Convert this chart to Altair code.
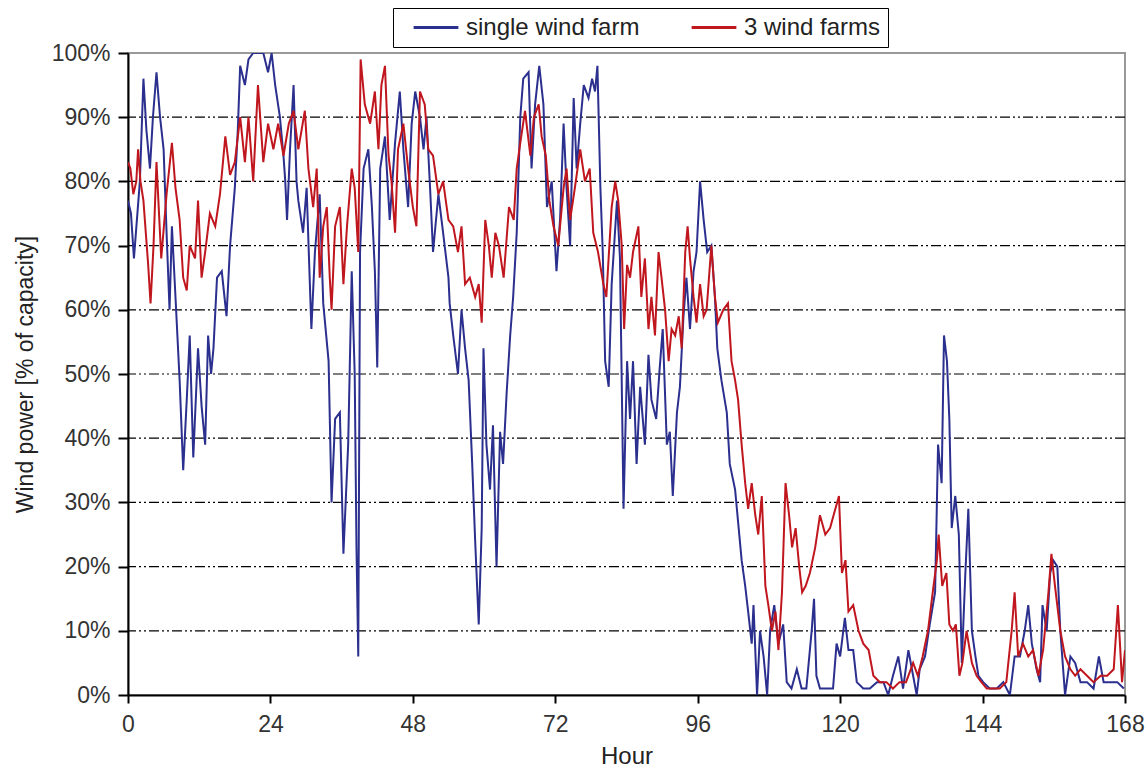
import altair as alt
import pandas as pd

# ---- data ----
single_hours = [0.0, 0.5, 1.0, 1.5, 2.0, 2.6, 3.1, 3.7, 4.2, 4.8, 5.4, 6.0, 6.5, 7.0, 7.4, 8.0, 8.7, 9.3, 9.9, 10.4,
                11.0, 11.8, 12.4, 13.0, 13.5, 14.0, 14.4, 15.0, 15.8, 16.6, 17.2, 18.0, 18.5, 18.9, 19.7, 20.3, 21.1, 22.0, 22.8, 23.6,
                24.2, 24.8, 25.6, 26.2, 26.5, 26.8, 27.3, 27.9, 28.4, 28.7, 29.5, 30.1, 30.9, 31.5, 32.3, 32.9, 33.8, 34.3, 34.9, 35.7,
                36.3, 37.1, 37.7, 38.2, 38.5, 38.8, 39.1, 39.7, 40.5, 41.1, 41.6, 42.0, 42.5, 43.3, 44.1, 45.0, 45.8, 46.4, 47.2, 47.8,
                48.4, 49.2, 49.8, 50.3, 50.9, 51.4, 52.3, 53.1, 54.0, 54.2, 54.8, 55.6, 56.2, 56.8, 57.4, 58.0, 58.5, 59.1, 59.6, 59.9,
                60.4, 61.0, 61.5, 62.1, 62.7, 63.2, 63.8, 64.4, 64.9, 65.5, 66.1, 66.6, 67.5, 68.0, 68.6, 69.3, 70.0, 70.6, 71.4, 72.2,
                72.8, 73.4, 73.9, 74.5, 75.1, 75.6, 76.2, 76.8, 77.6, 78.2, 78.7, 79.1, 79.6, 80.0, 80.4, 81.0, 81.5, 82.4, 82.9, 83.5,
                84.1, 84.6, 85.1, 85.7, 86.3, 87.1, 87.7, 88.2, 89.0, 89.6, 90.1, 90.8, 91.3, 91.8, 92.5, 93.0, 93.6, 94.1, 94.7, 95.3,
                95.8, 96.4, 97.0, 97.6, 98.3, 98.9, 99.3, 100.0, 100.9, 101.4, 102.3, 102.8, 103.4, 104.0, 104.5, 105.1, 105.4, 106.0, 106.5, 107.1,
                107.7, 108.2, 108.9, 109.6, 110.4, 111.0, 111.8, 112.7, 113.5, 114.3, 115.2, 115.6, 116.0, 116.6, 117.7, 118.8, 119.4, 120.0, 120.8, 121.4,
                122.2, 122.8, 123.9, 125.0, 126.2, 127.3, 128.1, 128.9, 129.8, 130.6, 131.5, 132.3, 132.9, 133.4, 134.3, 135.1, 136.0, 136.5, 137.1, 137.5,
                138.0, 138.4, 138.8, 139.4, 140.0, 140.5, 141.1, 141.6, 142.2, 142.8, 143.3, 144.1, 145.2, 146.4, 147.5, 148.6, 149.4, 150.3, 151.1, 151.7,
                152.3, 153.1, 153.7, 154.1, 154.8, 155.4, 155.9, 156.6, 157.1, 157.9, 158.8, 159.6, 160.5, 161.6, 162.7, 163.6, 164.4, 165.5, 166.7, 167.8]
single_values = [77, 75, 68, 74, 80, 96, 88, 82, 90, 97, 90, 85, 72, 60, 73, 62, 49, 35, 46, 56,
                 37, 54, 45, 39, 56, 50, 54, 65, 66, 59, 70, 79, 88, 98, 95, 99, 100, 100, 100, 97,
                 100, 95, 90, 84, 80, 74, 85, 95, 80, 77, 72, 79, 57, 69, 78, 61, 52, 30, 43, 44,
                 22, 39, 66, 50, 23, 6, 69, 82, 85, 76, 66, 51, 82, 87, 74, 86, 94, 85, 76, 89,
                 94, 90, 85, 90, 79, 69, 78, 72, 65, 61, 56, 50, 60, 54, 49, 36, 24, 11, 26, 54,
                 39, 32, 42, 20, 41, 36, 47, 56, 62, 72, 90, 96, 97, 82, 92, 98, 92, 76, 80, 66,
                 74, 89, 79, 70, 93, 82, 89, 95, 93, 96, 94, 98, 79, 69, 52, 48, 64, 77, 68, 29,
                 52, 43, 52, 36, 48, 39, 53, 46, 43, 51, 57, 39, 41, 31, 44, 48, 59, 65, 57, 66,
                 69, 80, 74, 69, 70, 62, 54, 49, 44, 36, 32, 27, 21, 17, 13, 8, 14, 0, 10, 6,
                 0, 10, 14, 8, 11, 2, 1, 4, 1, 1, 10, 15, 3, 1, 1, 1, 8, 6, 12, 7,
                 7, 2, 1, 1, 2, 2, 0, 3, 6, 1, 7, 3, 0, 4, 6, 11, 16, 39, 33, 56,
                 52, 43, 26, 31, 25, 5, 19, 29, 10, 6, 3, 2, 1, 1, 2, 0, 6, 6, 10, 14,
                 8, 4, 2, 14, 10, 19, 21, 20, 10, 0, 6, 5, 2, 2, 1, 6, 2, 2, 2, 1]

three_hours = [0.0, 0.4, 0.9, 1.4, 1.7, 2.1, 2.6, 3.4, 3.8, 4.3, 4.8, 5.6, 6.5, 7.4, 8.0, 8.7, 9.3, 9.9, 10.4, 11.3,
               11.8, 12.4, 13.0, 13.8, 14.7, 15.5, 16.4, 17.2, 18.0, 18.9, 19.7, 20.3, 21.1, 21.9, 22.8, 23.6, 24.5, 25.3, 26.2, 27.1,
               27.9, 28.7, 29.8, 30.4, 31.2, 31.8, 32.3, 32.9, 33.5, 34.0, 34.3, 34.9, 35.7, 36.3, 36.9, 37.7, 38.2, 38.8, 39.2, 39.9,
               40.8, 41.6, 42.2, 42.7, 43.3, 43.9, 44.4, 45.0, 45.5, 46.4, 47.2, 48.0, 48.6, 49.2, 50.0, 50.6, 51.4, 52.3, 53.1, 54.0,
               54.8, 55.6, 56.2, 56.8, 57.6, 58.5, 59.1, 59.6, 60.2, 60.8, 61.3, 61.9, 62.5, 63.3, 64.2, 65.0, 65.5, 66.1, 66.9, 67.8,
               68.4, 69.2, 69.7, 70.4, 71.0, 71.7, 72.5, 73.4, 73.9, 74.5, 75.3, 76.2, 77.0, 77.8, 78.4, 79.2, 80.1, 80.6, 81.5, 82.1,
               82.6, 83.2, 83.6, 84.1, 84.6, 85.1, 86.0, 86.5, 87.1, 87.7, 88.2, 88.8, 89.4, 89.9, 90.5, 91.1, 91.6, 92.2, 92.8, 93.3,
               93.9, 94.3, 94.7, 95.3, 95.8, 96.4, 97.0, 97.5, 98.3, 98.9, 99.4, 100.3, 101.1, 101.7, 102.3, 102.8, 103.4, 104.0, 104.5, 105.1,
               105.7, 106.2, 106.8, 107.4, 107.9, 108.5, 109.1, 109.6, 110.2, 110.8, 111.4, 111.9, 112.5, 113.1, 113.6, 114.2, 114.9, 115.8, 116.6, 117.5,
               118.3, 119.2, 119.8, 120.3, 120.9, 121.4, 122.2, 123.1, 123.9, 124.8, 125.6, 126.7, 127.8, 128.9, 130.0, 131.1, 132.3, 133.1, 133.9, 134.8,
               135.6, 136.3, 136.6, 137.2, 137.9, 138.4, 139.0, 139.5, 140.1, 140.6, 141.3, 142.2, 143.0, 143.8, 144.7, 145.8, 146.9, 148.0, 148.9, 149.4,
               150.0, 150.8, 151.7, 152.5, 153.4, 154.2, 155.1, 155.6, 156.2, 157.1, 157.9, 158.8, 159.6, 160.5, 161.6, 162.7, 163.9, 165.0, 166.1, 166.8,
               167.5, 168.0]
three_values = [83, 82, 78, 80, 85, 80, 77, 67, 61, 70, 83, 68, 78, 86, 79, 74, 65, 63, 70, 68,
                77, 65, 69, 75, 73, 78, 87, 81, 83, 90, 83, 90, 80, 95, 83, 89, 85, 89, 84, 89,
                91, 85, 91, 82, 76, 82, 65, 73, 76, 65, 60, 73, 76, 64, 73, 82, 79, 69, 99, 92,
                89, 94, 85, 95, 98, 84, 80, 72, 85, 89, 82, 76, 73, 94, 92, 85, 84, 78, 80, 74,
                73, 69, 73, 64, 65, 62, 64, 58, 74, 70, 65, 72, 70, 65, 76, 74, 82, 86, 91, 84,
                90, 92, 87, 84, 77, 73, 70, 79, 82, 74, 79, 85, 80, 82, 72, 69, 64, 62, 76, 80,
                77, 70, 57, 67, 65, 69, 73, 62, 68, 57, 62, 56, 69, 65, 60, 52, 57, 56, 59, 54,
                69, 73, 68, 62, 58, 64, 59, 60, 70, 62, 58, 60, 61, 52, 49, 46, 39, 33, 29, 33,
                28, 25, 31, 17, 14, 10, 13, 7, 16, 33, 28, 23, 26, 20, 16, 17, 19, 23, 28, 25,
                26, 29, 31, 19, 21, 13, 14, 10, 8, 7, 3, 2, 2, 1, 2, 2, 5, 3, 6, 10,
                16, 21, 25, 17, 19, 11, 10, 11, 3, 5, 10, 5, 3, 2, 1, 1, 1, 2, 10, 16,
                6, 8, 6, 7, 3, 7, 16, 22, 17, 10, 6, 4, 3, 4, 3, 2, 3, 3, 4, 14,
                2, 7]

series_names = ["single wind farm", "3 wind farms"]
series_colors = ["#2B2F8E", "#C0161E"]
x_ticks = [0, 24, 48, 72, 96, 120, 144, 168]
y_ticks = [0, 10, 20, 30, 40, 50, 60, 70, 80, 90, 100]
grid_levels = [10, 20, 30, 40, 50, 60, 70, 80, 90]

df = pd.concat([
    pd.DataFrame({"hour": single_hours, "value": single_values, "series": series_names[0]}),
    pd.DataFrame({"hour": three_hours, "value": three_values, "series": series_names[1]}),
], ignore_index=True)
grid_df = pd.DataFrame({"level": grid_levels})

FONT = "Liberation Sans, Arial, sans-serif"

x_scale = alt.Scale(domain=[0, 168], nice=False, zero=False)
y_scale = alt.Scale(domain=[0, 100], nice=False)

x_axis = alt.Axis(values=x_ticks, title="Hour", grid=False, labelFontSize=23, titleFontSize=24,
                  labelColor="#333333", titleColor="#222222", labelFont=FONT, titleFont=FONT,
                  titleFontWeight="normal", domainColor="black", domainWidth=2,
                  tickColor="black", tickWidth=2, tickSize=8, labelPadding=10, titlePadding=8,
                  labelFlush=False)
y_axis = alt.Axis(values=y_ticks, labelExpr="datum.value + '%'", title="Wind power [% of capacity]",
                  grid=False, labelFontSize=23, titleFontSize=23, labelColor="#333333",
                  titleColor="#222222", labelFont=FONT, titleFont=FONT, titleFontWeight="normal",
                  domainColor="black", domainWidth=2, tickColor="black", tickWidth=2, tickSize=10,
                  labelPadding=8, titlePadding=14, labelFlush=False)

x_enc = alt.X("hour:Q", scale=x_scale, axis=x_axis)
y_enc = alt.Y("value:Q", scale=y_scale, axis=y_axis)
color_enc = alt.Color(
    "series:N",
    scale=alt.Scale(domain=series_names, range=series_colors),
    legend=alt.Legend(
        title=None, orient="none", legendX=265, legendY=-45, direction="horizontal",
        symbolType="stroke", symbolSize=2000, symbolStrokeWidth=3, clipHeight=25,
        symbolOffset=12,
        labelFontSize=24, labelFont=FONT, labelColor="#222222", labelOffset=6, labelLimit=400,
        columnPadding=38, padding=7, strokeColor="black", fillColor="white",
    ),
)

grid = alt.Chart(grid_df).mark_rule(
    color="black", strokeWidth=1.2, strokeDash=[10, 3, 2, 3, 2, 3]
).encode(y=alt.Y("level:Q", scale=y_scale, axis=y_axis))

single_line = alt.Chart(df).transform_filter(
    alt.datum.series == series_names[0]
).mark_line(strokeWidth=2, clip=True).encode(x=x_enc, y=y_enc, color=color_enc)

three_line = alt.Chart(df).transform_filter(
    alt.datum.series == series_names[1]
).mark_line(strokeWidth=2, clip=True).encode(x=x_enc, y=y_enc, color=color_enc)

chart = alt.layer(grid, single_line, three_line).properties(
    width=997, height=642,
    autosize=alt.AutoSizeParams(type="none"),
    padding={"left": 128, "top": 53, "right": 23, "bottom": 78},
    background="white",
).configure_view(stroke="#999999", strokeWidth=2)

chart.save("out.html", embed_options={"renderer": "svg", "actions": False})
